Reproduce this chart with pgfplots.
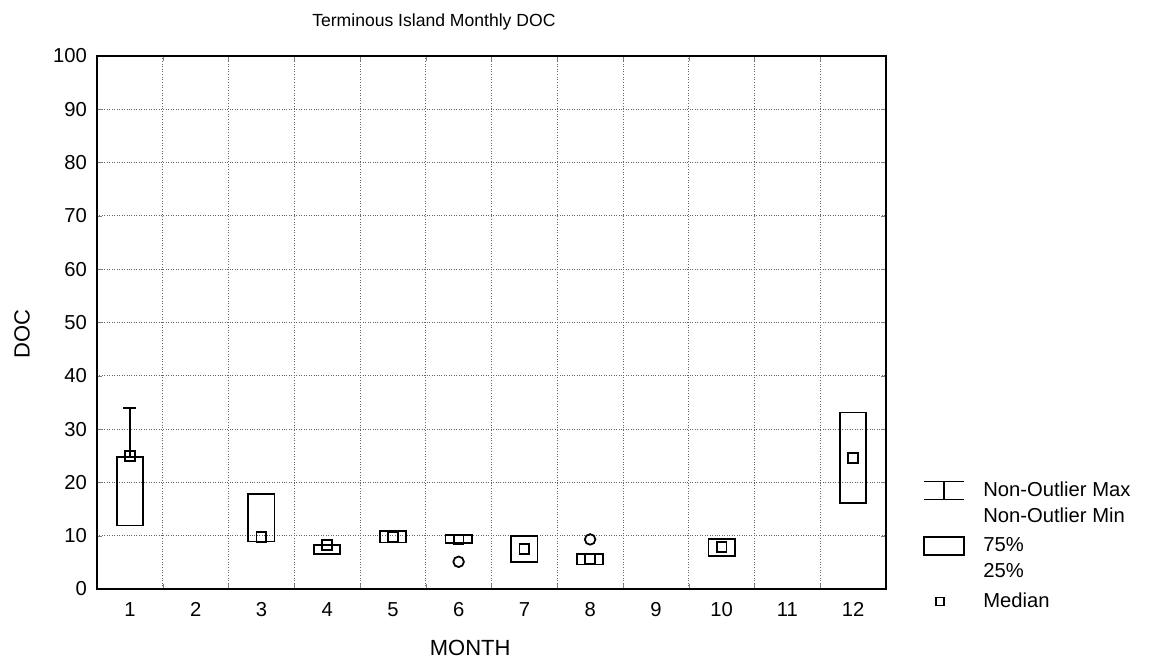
\documentclass[border=0pt]{standalone}
\usepackage{fontspec}
\setmainfont{Liberation Sans}
\usepackage{pgfplots}
\pgfplotsset{compat=1.18}
\usepgfplotslibrary{statistics}

\begin{document}
\begin{tikzpicture}
\path[use as bounding box] (0,0) rectangle (23.02cm,13.32cm);
\begin{axis}[
  at={(1.94cm,1.54cm)}, anchor=south west,
  scale only axis, width=15.78cm, height=10.66cm,
  xmin=0.5, xmax=12.5, ymin=0, ymax=100,
  axis line style={line width=1pt},
  xtick={1,2,...,12},
  minor xtick={1.5,2.5,...,11.5},
  ytick={0,10,...,100},
  major x tick style={draw=none},
  tick align=inside,
  major tick length=0.1cm, minor tick length=0.1cm,
  xminorgrids, ymajorgrids,
  grid style={densely dotted, gray!80!black, line width=0.5pt},
  minor grid style={densely dotted, gray!80!black, line width=0.5pt},
  /pgf/number format/assume math mode=true,
  tick label style={font=\fontsize{11.5}{13}\selectfont},
  yticklabel style={xshift=-0.08cm},
  xticklabel style={yshift=-0.14cm},
  title={Terminous Island Monthly DOC},
  title style={at={(0.427,1.045)}, anchor=center, font=\fontsize{10}{12}\selectfont},
  xlabel={MONTH},
  xlabel style={at={(0.473,-0.111)}, anchor=center, font=\fontsize{12.5}{14}\selectfont},
  ylabel={DOC},
  ylabel style={at={(-0.095,0.478)}, anchor=center, font=\fontsize{12.5}{14}\selectfont},
  boxplot/draw direction=y,
  boxplot/box extend=0.4,
  boxplot/whisker extend=0.2,
  boxplot/every median/.style={draw=none},
  legend style={at={(1.047,0.208)}, anchor=north west, draw=none, fill=none,
    inner sep=0pt, row sep=0.12cm, column sep=0.3cm,
    font=\fontsize{11.5}{14.5}\selectfont, cells={align=left}},
  legend cell align=left,
]
% boxes: lower whisker / lower quartile / upper quartile / upper whisker
\addplot[black, line width=1pt, forget plot, boxplot prepared={draw position=1,
  lower whisker=11.9, lower quartile=11.9, median=25, upper quartile=24.8, upper whisker=33.9}] coordinates {};
\addplot[black, line width=1pt, forget plot, boxplot prepared={draw position=3,
  lower whisker=8.9, lower quartile=8.9, median=9.8, upper quartile=17.8, upper whisker=17.8}] coordinates {};
\addplot[black, line width=1pt, forget plot, boxplot prepared={draw position=4,
  lower whisker=6.6, lower quartile=6.6, median=8.3, upper quartile=8.3, upper whisker=8.3}] coordinates {};
\addplot[black, line width=1pt, forget plot, boxplot prepared={draw position=5,
  lower whisker=8.7, lower quartile=8.7, median=9.8, upper quartile=10.9, upper whisker=10.9}] coordinates {};
\addplot[black, line width=1pt, forget plot, boxplot prepared={draw position=6,
  lower whisker=8.6, lower quartile=8.6, median=9.3, upper quartile=10.1, upper whisker=10.1}] coordinates {};
\addplot[black, line width=1pt, forget plot, boxplot prepared={draw position=7,
  lower whisker=5.1, lower quartile=5.1, median=7.5, upper quartile=10.0, upper whisker=10.0}] coordinates {};
\addplot[black, line width=1pt, forget plot, boxplot prepared={draw position=8,
  lower whisker=4.6, lower quartile=4.6, median=5.6, upper quartile=6.6, upper whisker=6.6}] coordinates {};
\addplot[black, line width=1pt, forget plot, boxplot prepared={draw position=10,
  lower whisker=6.2, lower quartile=6.2, median=7.9, upper quartile=9.4, upper whisker=9.4}] coordinates {};
\addplot[black, line width=1pt, forget plot, boxplot prepared={draw position=12,
  lower whisker=16.1, lower quartile=16.1, median=24.6, upper quartile=33.1, upper whisker=33.1}] coordinates {};
% medians
\addplot[only marks, mark=square, mark size=2.8pt, black, line width=1pt, forget plot] coordinates {
  (1,25) (3,9.8) (4,8.3) (5,9.8) (6,9.3) (7,7.5) (8,5.6) (10,7.9) (12,24.6)
};
% outliers
\addplot[only marks, mark=o, mark size=3pt, black, line width=1pt, forget plot] coordinates {
  (6,5.1) (8,9.3)
};
% legend
\addlegendimage{legend image code/.code={
  \draw[line width=0.8pt] (0cm,0.44cm) -- (0.8cm,0.44cm) (0.4cm,0.44cm) -- (0.4cm,0.08cm)
    (0cm,0.08cm) -- (0.8cm,0.08cm);}}
\addlegendentry{Non-Outlier Max\\Non-Outlier Min}
\addlegendimage{legend image code/.code={
  \draw[line width=0.8pt] (0cm,0.08cm) rectangle (0.8cm,0.44cm);}}
\addlegendentry{75\%\\25\%}
\addlegendimage{legend image code/.code={
  \path[draw=none] (0cm,0cm) -- (0.8cm,0cm);
  \draw[line width=0.8pt] (0.24cm,-0.08cm) rectangle (0.4cm,0.08cm);}}
\addlegendentry{Median}
\end{axis}
\end{tikzpicture}
\end{document}
